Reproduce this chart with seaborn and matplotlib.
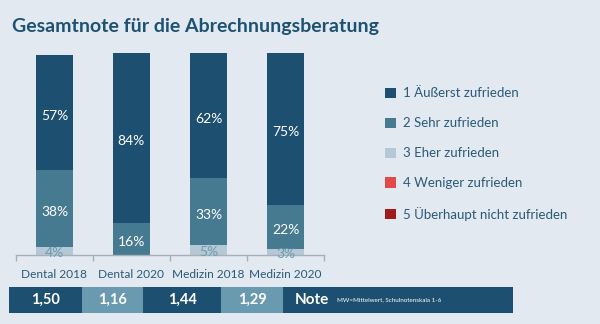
import numpy as np
import pandas as pd
import seaborn as sns
import matplotlib.pyplot as plt
from matplotlib.patches import Patch

sns.set_theme(style="white")
plt.rcParams["font.family"] = ["Lato", "DejaVu Sans"]

# Survey results (percent of respondents per grade)
groups = ["Dental 2018", "Dental 2020", "Medizin 2018", "Medizin 2020"]
grade1 = [57, 84, 62, 75]   # 1 Äußerst zufrieden
grade2 = [38, 16, 33, 22]   # 2 Sehr zufrieden
grade3 = [4, 0, 5, 3]       # 3 Eher zufrieden
grade4 = [0, 0, 0, 0]       # 4 Weniger zufrieden
grade5 = [0, 0, 0, 0]       # 5 Überhaupt nicht zufrieden
mean_grades = [1.50, 1.16, 1.44, 1.29]

legend_labels = ["1 Äußerst zufrieden", "2 Sehr zufrieden", "3 Eher zufrieden",
                 "4 Weniger zufrieden", "5 Überhaupt nicht zufrieden"]

BG = "#e2e9f0"
C1, C2, C3, C4, C5 = "#1d5070", "#457a91", "#b4c9d5", "#e04a4a", "#a01a1a"
TXT = "#2b5a78"
CELL_LIGHT = "#6a9ab0"

fig = plt.figure(figsize=(6.0, 3.24), dpi=100, facecolor=BG)
W, H = 600, 324

ax = fig.add_axes([16 / W, (H - 255) / H, 308 / W, 202 / H])
ax.set_facecolor(BG)

df = pd.DataFrame({"group": groups, "g1": grade1, "g2": grade2, "g3": grade3})
df["top3"] = df["g3"]
df["top2"] = df["g3"] + df["g2"]
df["top1"] = df["top2"] + df["g1"]

for col, color in [("top1", C1), ("top2", C2), ("top3", C3)]:
    sns.barplot(data=df, x="group", y=col, color=color, width=0.48,
                saturation=1, ax=ax, linewidth=0, order=groups)

# segment labels
for i, row in df.iterrows():
    ax.text(i, row["g3"] + row["g2"] + row["g1"] / 2 - 1.5, f"{row['g1']}%",
            ha="center", va="center", color="white", fontsize=10)
    ax.text(i, row["g3"] + row["g2"] / 2 - 1.5, f"{row['g2']}%",
            ha="center", va="center", color="white", fontsize=10)
    if row["g3"] > 0:
        ax.text(i, row["g3"] / 2 - 1.0, f"{row['g3']}%",
                ha="center", va="center", color="#7199ae", fontsize=10)

ax.set_xlim(-0.5, len(groups) - 0.5)
ax.set_ylim(0, 100)
ax.set_xlabel("")
ax.set_ylabel("")
ax.set_yticks([])
for s in ["top", "right", "left"]:
    ax.spines[s].set_visible(False)
ax.spines["bottom"].set_color("#a7b0b8")
ax.spines["bottom"].set_linewidth(1.0)
ax.set_xticks(np.arange(len(groups)))
ax.set_xticklabels(groups, color=TXT, fontsize=8.6)
ax.tick_params(axis="x", which="major", length=0, pad=10)
ax.set_xticks(np.arange(len(groups) + 1) - 0.5, minor=True)
ax.tick_params(axis="x", which="minor", length=4, width=1, color="#a7b0b8",
               direction="out", bottom=True)

# legend
handles = [Patch(facecolor=c, edgecolor="none") for c in (C1, C2, C3, C4, C5)]
leg = fig.legend(handles, legend_labels, loc="upper left",
                 bbox_to_anchor=(380 / W, 1 - 82 / H), frameon=False,
                 fontsize=9.5, handlelength=0.8, handleheight=0.8,
                 handletextpad=0.55, labelspacing=1.36, borderaxespad=0)
for t in leg.get_texts():
    t.set_color(TXT)

# title
fig.text(12 / W, 1 - 32 / H, "Gesamtnote für die Abrechnungsberatung",
         fontsize=14.0, fontweight="bold", color="#1e5272", va="baseline")

# bottom band with mean grades
bx = fig.add_axes([9 / W, (H - 313) / H, 504 / W, 26 / H])
bx.set_axis_off()
cell_widths = [73, 61, 78, 62, 230]
cell_colors = [C1, CELL_LIGHT, C1, CELL_LIGHT, C1]
lefts = np.concatenate([[0], np.cumsum(cell_widths)[:-1]])
bx.barh(0, cell_widths, left=lefts, height=1, color=cell_colors, linewidth=0)
bx.set_xlim(0, sum(cell_widths))
bx.set_ylim(-0.5, 0.5)
for i, m in enumerate(mean_grades):
    bx.text(lefts[i] + cell_widths[i] / 2, 0, f"{m:.2f}".replace(".", ","),
            ha="center", va="center", color="white", fontsize=10.5,
            fontweight="bold")
bx.text(lefts[4] + 12, 0, "Note", ha="left", va="center", color="white",
        fontsize=11, fontweight="bold")
bx.text(lefts[4] + 54, 0, "MW=Mittelwert, Schulnotenskala 1-6", ha="left",
        va="center", color="white", fontsize=4.5)

fig.savefig("out.png", dpi=100, facecolor=BG)
